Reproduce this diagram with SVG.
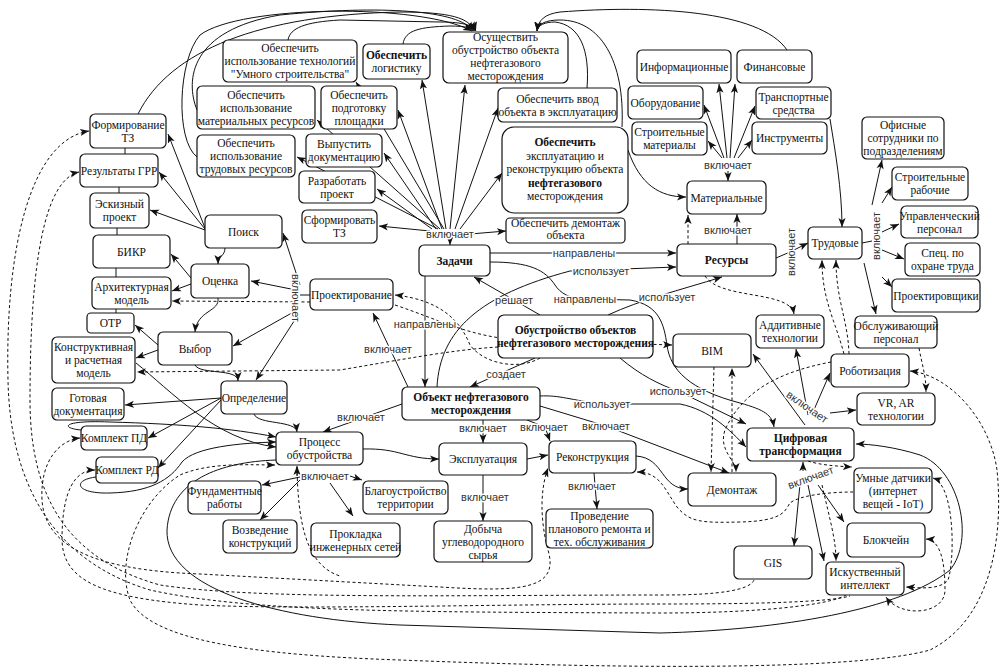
<svg xmlns="http://www.w3.org/2000/svg" width="1004" height="670" viewBox="0 0 1004 670">
<defs>
<style>
.n rect{fill:#fff;stroke:#111;stroke-width:1.2}
.t{font-family:"Liberation Serif",serif;font-size:11.5px;text-anchor:middle;fill:#111}
.b{font-weight:bold}
.e{fill:none;stroke:#111;stroke-width:1}
.d{fill:none;stroke:#111;stroke-width:1;stroke-dasharray:3 2.5}
.l{font-family:"Liberation Sans",sans-serif;font-size:11px;text-anchor:middle;fill:#333;paint-order:stroke;stroke:#fff;stroke-width:3px;stroke-linejoin:round}
</style>
<marker id="a" viewBox="0 0 10 10" refX="10" refY="5" markerWidth="9" markerHeight="9" orient="auto-start-reverse" markerUnits="userSpaceOnUse"><path d="M0,1 L10,5 L0,9 L2.5,5 z" fill="#111"/></marker>
</defs>
<rect width="1004" height="670" fill="#fff"/>
<g id="connectors">
<!-- top fan from Задачи hub -->
<path class="e" d="M430 231 L379 226" marker-end="url(#a)"/>
<path class="e" d="M432 229 L377 189" marker-end="url(#a)"/>
<path class="e" d="M436 229 L384 153" marker-end="url(#a)"/>
<path class="e" d="M438 229 L297 157" marker-end="url(#a)"/>
<path class="e" d="M440 229 L317 120" marker-end="url(#a)"/>
<path class="e" d="M442 229 L398 110" marker-end="url(#a)"/>
<path class="e" d="M444 229 L356 82" marker-end="url(#a)"/>
<path class="e" d="M446 229 L422 80" marker-end="url(#a)"/>
<path class="e" d="M450 229 L465 85" marker-end="url(#a)"/>
<path class="e" d="M455 229 L498 108" marker-end="url(#a)"/>
<path class="e" d="M460 229 L502 173" marker-end="url(#a)"/>
<path class="e" d="M470 234 L506 231" marker-end="url(#a)"/>
<path class="e" d="M450 238 L450 245" marker-end="url(#a)"/>
<!-- top arcs to Осуществить -->
<path class="e" d="M138 114 C170 50 260 15 400 12 C450 12 470 18 474 31" marker-end="url(#a)"/>
<path class="e" d="M197 110 C185 80 190 30 280 15 C380 5 460 10 473 31" marker-end="url(#a)"/>
<path class="e" d="M197 157 C175 140 178 60 200 35 C240 5 420 3 472 31" marker-end="url(#a)"/>
<path class="e" d="M288 40 C290 28 305 22 340 20 L440 22 C465 22 474 26 475 31" marker-end="url(#a)"/>
<path class="e" d="M403 44 C405 30 420 27 450 26 C465 26 475 28 476 31" marker-end="url(#a)"/>
<path class="e" d="M787 50 C760 10 650 5 560 12 C545 14 538 20 537 31" marker-end="url(#a)"/>
<path class="e" d="M587 88 C590 50 580 25 555 22 C545 22 538 25 537 31" marker-end="url(#a)"/>
<path class="e" d="M622 127 C625 60 600 20 560 20 C545 20 538 24 537 31" marker-end="url(#a)"/>
<path class="e" d="M628 150 C640 185 660 197 686 197" marker-end="url(#a)"/>
<!-- Поиск fan -->
<path class="e" d="M205 228 L168 134" marker-end="url(#a)"/>
<path class="e" d="M205 229 L159 172" marker-end="url(#a)"/>
<path class="e" d="M205 230 L150 210" marker-end="url(#a)"/>
<path class="e" d="M225 248 C225 256 218 256 218 264" marker-end="url(#a)"/>
<path class="e" d="M191 278 L171 254" marker-end="url(#a)"/>
<path class="e" d="M191 284 L172 291" marker-end="url(#a)"/>
<path class="e" d="M218 298 C220 312 197 310 195 332" marker-end="url(#a)"/>
<path class="e" d="M158 345 L135 325" marker-end="url(#a)"/>
<path class="e" d="M158 350 L136 358" marker-end="url(#a)"/>
<path class="e" d="M195 365 C200 375 238 368 238 381" marker-end="url(#a)"/>
<path class="e" d="M221 398 L125 405" marker-end="url(#a)"/>
<path class="e" d="M221 398 L148 438" marker-end="url(#a)"/>
<path class="e" d="M221 400 L158 468" marker-end="url(#a)"/>
<path class="e" d="M254 414 C258 425 296 420 297 432" marker-end="url(#a)"/>
<!-- Проектирование hub -->
<path class="e" d="M310 295 L300 295"/>
<path class="e" d="M300 285 L283 233" marker-end="url(#a)"/>
<path class="e" d="M296 290 L251 281" marker-end="url(#a)"/>
<path class="e" d="M297 310 L233 346" marker-end="url(#a)"/>
<path class="e" d="M298 315 L256 380" marker-end="url(#a)"/>
<!-- vertical chain -->
<path class="e" d="M125 148 L125 154 M119 187 L119 193 M117 228 L117 235 M116 268 L116 277 M116 309 L116 313"/>
<!-- into Процесс -->
<path class="e" d="M136 363 C170 390 215 440 276 447" marker-end="url(#a)"/>
<path class="e" d="M81 430 C60 428 62 420 110 422 C180 424 230 428 276 437" marker-end="url(#a)"/>
<path class="e" d="M96 477 C72 480 75 494 110 493 C150 492 170 480 182 462 C195 447 240 443 276 442" marker-end="url(#a)"/>
<path class="e" d="M402 404 L323 432" marker-end="url(#a)"/>
<path class="e" d="M408 387 L373 313" marker-end="url(#a)"/>
<path class="e" d="M425 276 L425 387" marker-end="url(#a)"/>
<path class="e" d="M540 315 L474 277" marker-end="url(#a)"/>
<path class="e" d="M535 358 L470 387" marker-end="url(#a)"/>
<path class="e" d="M437 387 C440 330 480 295 570 271 L676 267" marker-end="url(#a)"/>
<path class="e" d="M490 253 L676 253" marker-end="url(#a)"/>
<path class="e" d="M490 262 C530 262 545 270 555 285 C560 293 570 299 585 299 L630 300 C660 305 664 325 667 345 C670 370 690 390 740 403 C765 410 772 415 774 427" marker-end="url(#a)"/>
<path class="e" d="M608 315 C640 300 680 290 722 277" marker-end="url(#a)"/>
<path class="e" d="M620 358 C640 375 660 385 678 391 L746 424" marker-end="url(#a)"/>
<path class="e" d="M540 406 L606 426 L729 473" marker-end="url(#a)"/>
<path class="e" d="M540 396 C560 395 570 400 602 404 L680 404 C710 410 730 430 746 447" marker-end="url(#a)"/>
<path class="e" d="M483 420 L483 443" marker-end="url(#a)"/>
<path class="e" d="M527 420 L545 427 L550 441" marker-end="url(#a)"/>
<path class="e" d="M363 449 C400 448 405 459 439 459" marker-end="url(#a)"/>
<path class="e" d="M527 459 L548 455" marker-end="url(#a)"/>
<path class="e" d="M483 475 L483 521" marker-end="url(#a)"/>
<path class="e" d="M594 473 L597 509" marker-end="url(#a)"/>
<path class="e" d="M636 456 C665 458 660 489 688 489" marker-end="url(#a)"/>
<!-- Процесс hub -->
<path class="e" d="M297 476 L297 466" marker-end="url(#a)"/>
<path class="e" d="M300 477 L262 485" marker-end="url(#a)"/>
<path class="e" d="M300 480 L260 520" marker-end="url(#a)"/>
<path class="e" d="M330 483 L353 516" marker-end="url(#a)"/>
<path class="e" d="M350 476 L362 480" marker-end="url(#a)"/>
<!-- Ресурсы -->
<path class="e" d="M737 244 L737 214" marker-end="url(#a)"/>
<path class="d" d="M688 244 L688 215" marker-end="url(#a)"/>
<path class="e" d="M728 171 L728 181" marker-end="url(#a)"/>
<path class="e" d="M722 158 L708 141" marker-end="url(#a)"/>
<path class="e" d="M724 158 L704 105" marker-end="url(#a)"/>
<path class="e" d="M727 158 L719 84" marker-end="url(#a)"/>
<path class="e" d="M730 158 L735 84" marker-end="url(#a)"/>
<path class="e" d="M734 158 L755 106" marker-end="url(#a)"/>
<path class="e" d="M738 158 L752 140" marker-end="url(#a)"/>
<path class="e" d="M830 119 C835 150 842 190 842 227" marker-end="url(#a)"/>
<path class="e" d="M776 258 L790 252 L808 243" marker-end="url(#a)"/>
<!-- Трудовые hub -->
<path class="e" d="M862 243 L872 241"/>
<path class="e" d="M872 205 L882 160" marker-end="url(#a)"/>
<path class="e" d="M882 203 L892 187" marker-end="url(#a)"/>
<path class="e" d="M882 232 L899 224" marker-end="url(#a)"/>
<path class="e" d="M882 250 L904 259" marker-end="url(#a)"/>
<path class="e" d="M882 277 L892 287" marker-end="url(#a)"/>
<path class="e" d="M864 263 L876 314" marker-end="url(#a)"/>
<path class="d" d="M705 276 C720 300 790 290 794 314" marker-end="url(#a)"/>
<path class="d" d="M844 354 C835 320 822 300 822 260" marker-end="url(#a)"/>
<path class="d" d="M849 354 C848 320 836 300 836 260" marker-end="url(#a)"/>
<!-- Цифровая hubs -->
<path class="e" d="M805 425 L753 354" marker-end="url(#a)"/>
<path class="e" d="M808 415 L796 349" marker-end="url(#a)"/>
<path class="e" d="M813 412 L830 373" marker-end="url(#a)"/>
<path class="e" d="M830 413 L856 410" marker-end="url(#a)"/>
<path class="e" d="M803 471 L803 462" marker-end="url(#a)"/>
<path class="e" d="M800 484 L794 546" marker-end="url(#a)"/>
<path class="e" d="M808 485 L824 561" marker-end="url(#a)"/>
<path class="e" d="M818 485 L844 522" marker-end="url(#a)"/>
<path class="d" d="M808 461 C820 465 835 466 852 467" marker-end="url(#a)"/>
<path class="d" d="M822 485 C830 520 836 540 836 561" marker-end="url(#a)"/>
<!-- big solid loop -->
<path class="e" d="M276 460 C220 462 170 480 167 530 C165 590 280 620 400 625 L660 633 C780 630 900 610 950 570 C975 540 960 470 920 455 C895 447 870 444 856 444" marker-end="url(#a)"/>
<!-- dashed bottom curves -->
<path class="d" d="M89 131 C30 140 5 250 8 380 C10 480 50 560 150 590 C250 612 400 612 660 613 C760 613 830 605 846 595" marker-start="url(#a)"/>
<path class="d" d="M79 172 C45 180 30 260 30 400 C30 500 70 560 160 585 C260 600 450 595 664 595 C720 595 750 590 754 580" marker-start="url(#a)"/>
<path class="d" d="M80 438 C60 440 40 460 42 500 C45 545 90 570 200 574 L440 587 C520 592 560 590 548 550 C540 520 540 490 548 468" marker-start="url(#a)" marker-end="url(#a)"/>
<path class="d" d="M95 470 C75 470 62 490 62 540 C63 580 100 598 200 605 C300 610 500 604 664 604 C760 604 830 602 850 596" marker-start="url(#a)"/>
<path class="d" d="M297 467 C298 520 305 565 340 576"/>
<path class="d" d="M910 371 C950 375 990 420 997 470 C1004 540 990 620 930 650 C850 672 600 668 400 660 C250 655 150 640 130 600 C115 560 140 500 180 475 C210 462 250 465 275 465" marker-start="url(#a)" marker-end="url(#a)"/>
<path class="d" d="M637 472 C660 472 665 490 677 507 C690 522 700 523 740 522 C785 521 785 510 790 503 C800 495 830 492 854 492" marker-start="url(#a)"/>
<path class="d" d="M714 367 L711 472" marker-end="url(#a)"/>
<path class="d" d="M732 472 L732 368" marker-end="url(#a)"/>
<path class="d" d="M831 362 C790 370 745 385 725 430 C718 450 736 460 736 472" marker-end="url(#a)"/>
<path class="d" d="M919 348 C922 365 926 375 926 392" marker-end="url(#a)"/>
<path class="d" d="M933 478 C955 485 955 560 948 580 C940 590 920 588 906 587" marker-start="url(#a)" marker-end="url(#a)"/>
<path class="d" d="M926 539 C940 540 945 560 945 590 C945 615 900 618 886 597" marker-start="url(#a)" marker-end="url(#a)"/>
<path class="d" d="M498 347 C450 350 400 360 340 370 L137 372" marker-end="url(#a)"/>
<path class="d" d="M310 302 L172 301" marker-end="url(#a)"/>
<path class="d" d="M540 358 C520 370 485 365 470 345 C460 320 440 300 395 295" marker-end="url(#a)"/>
<path class="d" d="M395 305 C440 320 470 337 520 340 L672 345" marker-end="url(#a)"/>
<!-- edge labels -->
<text class="l" x="450" y="238">включает</text>
<text class="l" x="584" y="257">направлены</text>
<text class="l" x="601" y="275">использует</text>
<text class="l" x="514" y="304">решает</text>
<text class="l" x="585" y="303">направлены</text>
<text class="l" x="667" y="301">использует</text>
<text class="l" x="425" y="328">направлены</text>
<text class="l" x="388" y="353">включает</text>
<text class="l" x="506" y="378">создает</text>
<text class="l" x="602" y="408">использует</text>
<text class="l" x="678" y="395">использует</text>
<text class="l" x="361" y="421">включает</text>
<text class="l" x="483" y="432">включает</text>
<text class="l" x="544" y="431">включает</text>
<text class="l" x="606" y="430">включает</text>
<text class="l" x="325" y="480">включает</text>
<text class="l" x="485" y="501">включает</text>
<text class="l" x="592" y="490">включает</text>
<text class="l" x="728" y="169">включает</text>
<text class="l" x="728" y="234">включает</text>
<text class="l" transform="translate(292,298) rotate(90)" x="0" y="0">включает</text>
<text class="l" transform="translate(795,252) rotate(-90)" x="0" y="0">включает</text>
<text class="l" transform="translate(880,236) rotate(-90)" x="0" y="0">включает</text>
<text class="l" transform="translate(805,410) rotate(35)" x="0" y="0">включает</text>
<text class="l" transform="translate(812,481) rotate(-20)" x="0" y="0">включает</text>
</g>
<g id="n_ftz" class="n"><rect x="90" y="114" width="76" height="34" rx="5"/><text class="t" x="128" y="128.5">Формирование</text><text class="t" x="128" y="141.5">ТЗ</text></g>
<g id="n_grr" class="n"><rect x="80" y="154" width="78" height="33" rx="5"/><text class="t" x="119" y="174.5">Результаты ГРР</text></g>
<g id="n_esk" class="n"><rect x="90" y="193" width="59" height="35" rx="5"/><text class="t" x="119.5" y="208">Эскизный</text><text class="t" x="119.5" y="221">проект</text></g>
<g id="n_bikr" class="n"><rect x="93" y="235" width="77" height="33" rx="5"/><text class="t" x="131.5" y="255.5">БИКР</text></g>
<g id="n_arch" class="n"><rect x="92" y="277" width="79" height="32" rx="5"/><text class="t" x="131.5" y="290.5">Архитектурная</text><text class="t" x="131.5" y="303.5">модель</text></g>
<g id="n_otr" class="n"><rect x="87" y="313" width="47" height="20" rx="4"/><text class="t" x="110.5" y="327">ОТР</text></g>
<g id="n_konstr" class="n"><rect x="52" y="337" width="83" height="46" rx="5"/><text class="t" x="93.5" y="351">Конструктивная</text><text class="t" x="93.5" y="364">и расчетная</text><text class="t" x="93.5" y="377">модель</text></g>
<g id="n_gotov" class="n"><rect x="52" y="388" width="72" height="32" rx="5"/><text class="t" x="88" y="401.5">Готовая</text><text class="t" x="88" y="414.5">документация</text></g>
<g id="n_pd" class="n"><rect x="81" y="426" width="66" height="24" rx="5"/><text class="t" x="114" y="442">Комплект ПД</text></g>
<g id="n_rd" class="n"><rect x="96" y="457" width="62" height="26" rx="5"/><text class="t" x="127" y="474">Комплект РД</text></g>
<g id="n_poisk" class="n"><rect x="205" y="215" width="77" height="33" rx="5"/><text class="t" x="243.5" y="235.5">Поиск</text></g>
<g id="n_ocenka" class="n"><rect x="191" y="264" width="58" height="34" rx="5"/><text class="t" x="220" y="285">Оценка</text></g>
<g id="n_vybor" class="n"><rect x="158" y="332" width="74" height="33" rx="5"/><text class="t" x="195" y="352.5">Выбор</text></g>
<g id="n_opred" class="n"><rect x="221" y="381" width="66" height="33" rx="5"/><text class="t" x="254" y="401.5">Определение</text></g>
<g id="n_proekt" class="n"><rect x="310" y="279" width="83" height="31" rx="5"/><text class="t" x="351.5" y="298.5">Проектирование</text></g>
<g id="n_process" class="n"><rect x="276" y="432" width="87" height="33" rx="5"/><text class="t" x="319.5" y="446">Процесс</text><text class="t" x="319.5" y="459">обустройства</text></g>
<g id="n_fund" class="n"><rect x="188" y="481" width="73" height="33" rx="5"/><text class="t" x="224.5" y="495">Фундаментные</text><text class="t" x="224.5" y="508">работы</text></g>
<g id="n_vozv" class="n"><rect x="223" y="520" width="74" height="33" rx="5"/><text class="t" x="260" y="534">Возведение</text><text class="t" x="260" y="547">конструкций</text></g>
<g id="n_prokl" class="n"><rect x="311" y="523" width="89" height="34" rx="5"/><text class="t" x="355.5" y="537.5">Прокладка</text><text class="t" x="355.5" y="550.5">инженерных сетей</text></g>
<g id="n_blag" class="n"><rect x="363" y="481" width="85" height="33" rx="5"/><text class="t" x="405.5" y="495">Благоустройство</text><text class="t" x="405.5" y="508">территории</text></g>
<g id="n_expl" class="n"><rect x="439" y="443" width="88" height="32" rx="5"/><text class="t" x="483" y="463">Эксплуатация</text></g>
<g id="n_dob" class="n"><rect x="434" y="521" width="98" height="41" rx="5"/><text class="t" x="483" y="532.5">Добыча</text><text class="t" x="483" y="545.5">углеводородного</text><text class="t" x="483" y="558.5">сырья</text></g>
<g id="n_rekon" class="n"><rect x="549" y="441" width="87" height="32" rx="5"/><text class="t" x="592.5" y="461">Реконструкция</text></g>
<g id="n_prov" class="n"><rect x="546" y="509" width="107" height="39" rx="5"/><text class="t" x="599.5" y="519.5">Проведение</text><text class="t" x="599.5" y="532.5">планового ремонта и</text><text class="t" x="599.5" y="545.5">тех. обслуживания</text></g>
<g id="n_demont" class="n"><rect x="688" y="473" width="88" height="33" rx="5"/><text class="t" x="732" y="493.5">Демонтаж</text></g>
<g id="n_cifr" class="n"><rect x="747" y="428" width="107" height="33" rx="5"/><text class="t b" x="800.5" y="442">Цифровая</text><text class="t b" x="800.5" y="455">трансформация</text></g>
<g id="n_iot" class="n"><rect x="854" y="468" width="78" height="45" rx="5"/><text class="t" x="893" y="481.5">Умные датчики</text><text class="t" x="893" y="494.5">(интернет</text><text class="t" x="893" y="507.5">вещей - IoT)</text></g>
<g id="n_block" class="n"><rect x="847" y="523" width="78" height="34" rx="5"/><text class="t" x="886" y="544">Блокчейн</text></g>
<g id="n_gis" class="n"><rect x="734" y="546" width="78" height="33" rx="5"/><text class="t" x="773" y="566.5">GIS</text></g>
<g id="n_ai" class="n"><rect x="826" y="562" width="78" height="33" rx="5"/><text class="t" x="865" y="576">Искуственный</text><text class="t" x="865" y="589">интеллект</text></g>
<g id="n_bim" class="n"><rect x="673" y="334" width="78" height="33" rx="5"/><text class="t" x="712" y="354.5">BIM</text></g>
<g id="n_add" class="n"><rect x="756" y="315" width="68" height="33" rx="5"/><text class="t" x="790" y="329">Аддитивные</text><text class="t" x="790" y="342">технологии</text></g>
<g id="n_obsl" class="n"><rect x="855" y="316" width="82" height="32" rx="5"/><text class="t" x="896" y="329.5">Обслуживающий</text><text class="t" x="896" y="342.5">персонал</text></g>
<g id="n_robot" class="n"><rect x="831" y="354" width="78" height="33" rx="5"/><text class="t" x="870" y="374.5">Роботизация</text></g>
<g id="n_vr" class="n"><rect x="857" y="393" width="78" height="32" rx="5"/><text class="t" x="896" y="406.5">VR, AR</text><text class="t" x="896" y="419.5">технологии</text></g>
<g id="n_trud" class="n"><rect x="808" y="227" width="54" height="32" rx="5"/><text class="t" x="835" y="247">Трудовые</text></g>
<g id="n_res" class="n"><rect x="677" y="244" width="99" height="32" rx="5"/><text class="t b" x="726.5" y="264">Ресурсы</text></g>
<g id="n_upr" class="n"><rect x="901" y="206" width="77" height="32" rx="5"/><text class="t" x="939.5" y="219.5">Управленческий</text><text class="t" x="939.5" y="232.5">персонал</text></g>
<g id="n_spec" class="n"><rect x="905" y="243" width="75" height="33" rx="5"/><text class="t" x="942.5" y="257">Спец. по</text><text class="t" x="942.5" y="270">охране труда</text></g>
<g id="n_proektir" class="n"><rect x="892" y="279" width="88" height="33" rx="5"/><text class="t" x="936" y="299.5">Проектировщики</text></g>
<g id="n_ofis" class="n"><rect x="862" y="117" width="82" height="42" rx="5"/><text class="t" x="903" y="129">Офисные</text><text class="t" x="903" y="142">сотрудники по</text><text class="t" x="903" y="155">подразделениям</text></g>
<g id="n_strrab" class="n"><rect x="892" y="167" width="76" height="33" rx="5"/><text class="t" x="930" y="181">Строительные</text><text class="t" x="930" y="194">рабочие</text></g>
<g id="n_mat" class="n"><rect x="687" y="181" width="79" height="33" rx="5"/><text class="t" x="726.5" y="201.5">Материальные</text></g>
<g id="n_info" class="n"><rect x="637" y="50" width="94" height="33" rx="5"/><text class="t" x="684" y="70.5">Информационные</text></g>
<g id="n_fin" class="n"><rect x="737" y="50" width="75" height="33" rx="5"/><text class="t" x="774.5" y="70.5">Финансовые</text></g>
<g id="n_obor" class="n"><rect x="628" y="86" width="75" height="33" rx="5"/><text class="t" x="665.5" y="106.5">Оборудование</text></g>
<g id="n_strmat" class="n"><rect x="632" y="122" width="75" height="33" rx="5"/><text class="t" x="669.5" y="136">Строительные</text><text class="t" x="669.5" y="149">материалы</text></g>
<g id="n_transp" class="n"><rect x="756" y="87" width="75" height="32" rx="5"/><text class="t" x="793.5" y="100.5">Транспортные</text><text class="t" x="793.5" y="113.5">средства</text></g>
<g id="n_instr" class="n"><rect x="752" y="122" width="75" height="32" rx="5"/><text class="t" x="789.5" y="142">Инструменты</text></g>
<g id="n_umn" class="n"><rect x="223" y="40" width="134" height="42" rx="5"/><text class="t" x="290" y="52">Обеспечить</text><text class="t" x="290" y="65">использование технологий</text><text class="t" x="290" y="78">"Умного строительства"</text></g>
<g id="n_matres" class="n"><rect x="197" y="86" width="118" height="43" rx="5"/><text class="t" x="256" y="98.5">Обеспечить</text><text class="t" x="256" y="111.5">использование</text><text class="t" x="256" y="124.5">материальных ресурсов</text></g>
<g id="n_podg" class="n"><rect x="321" y="86" width="76" height="43" rx="5"/><text class="t" x="359" y="98.5">Обеспечить</text><text class="t" x="359" y="111.5">подготовку</text><text class="t" x="359" y="124.5">площадки</text></g>
<g id="n_trudres" class="n"><rect x="197" y="135" width="98" height="42" rx="5"/><text class="t" x="246" y="147">Обеспечить</text><text class="t" x="246" y="160">использование</text><text class="t" x="246" y="173">трудовых ресурсов</text></g>
<g id="n_vyp" class="n"><rect x="306" y="134" width="76" height="33" rx="5"/><text class="t" x="344" y="148">Выпустить</text><text class="t" x="344" y="161">документацию</text></g>
<g id="n_razr" class="n"><rect x="299" y="171" width="76" height="32" rx="5"/><text class="t" x="337" y="184.5">Разработать</text><text class="t" x="337" y="197.5">проект</text></g>
<g id="n_sform" class="n"><rect x="302" y="210" width="75" height="33" rx="5"/><text class="t" x="339.5" y="224">Сформировать</text><text class="t" x="339.5" y="237">ТЗ</text></g>
<g id="n_log" class="n"><rect x="363" y="44" width="67" height="35" rx="5"/><text class="t b" x="396.5" y="59">Обеспечить</text><text class="t" x="396.5" y="72">логистику</text></g>
<g id="n_osush" class="n"><rect x="443" y="32" width="125" height="51" rx="6"/><text class="t" x="505.5" y="41">Осуществить</text><text class="t" x="505.5" y="54">обустройство объекта</text><text class="t" x="505.5" y="67">нефтегазового</text><text class="t" x="505.5" y="80">месторождения</text></g>
<g id="n_vvod" class="n"><rect x="498" y="88" width="119" height="34" rx="5"/><text class="t" x="557.5" y="102.5">Обеспечить ввод</text><text class="t" x="557.5" y="115.5">объекта в эксплуатацию</text></g>
<g id="n_expltask" class="n"><rect x="502" y="127" width="126" height="86" rx="12"/><text class="t b" x="565" y="146">Обеспечить</text><text class="t" x="565" y="159.5">эксплуатацию и</text><text class="t" x="565" y="173">реконструкцию объекта</text><text class="t b" x="565" y="186.5">нефтегазового</text><text class="t" x="565" y="200">месторождения</text></g>
<g id="n_demtask" class="n"><rect x="506" y="218" width="119" height="25" rx="4"/><text class="t" x="565.5" y="227">Обеспечить демонтаж</text><text class="t" x="565.5" y="239">объекта</text></g>
<g id="n_zadachi" class="n"><rect x="419" y="245" width="71" height="31" rx="5"/><text class="t b" x="454.5" y="264.5">Задачи</text></g>
<g id="n_obustr" class="n"><rect x="498" y="315" width="155" height="43" rx="6"/><text class="t b" x="575.5" y="334">Обустройство объектов</text><text class="t b" x="575.5" y="347">нефтегазового месторождения</text></g>
<g id="n_obj" class="n"><rect x="402" y="387" width="138" height="33" rx="5"/><text class="t b" x="471" y="401">Объект нефтегазового</text><text class="t b" x="471" y="414">месторождения</text></g>
</svg>
